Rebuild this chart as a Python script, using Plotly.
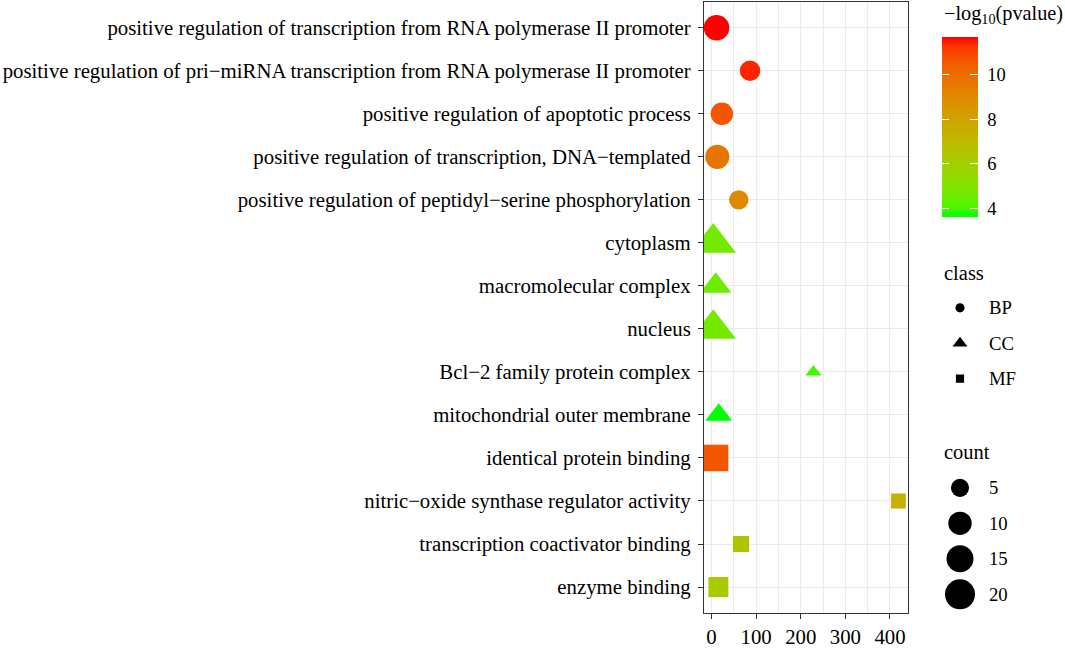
import numpy as np
import plotly.graph_objects as go

# ---------------- data ----------------
terms = [
    "positive regulation of transcription from RNA polymerase II promoter",
    "positive regulation of pri\u2212miRNA transcription from RNA polymerase II promoter",
    "positive regulation of apoptotic process",
    "positive regulation of transcription, DNA\u2212templated",
    "positive regulation of peptidyl\u2212serine phosphorylation",
    "cytoplasm",
    "macromolecular complex",
    "nucleus",
    "Bcl\u22122 family protein complex",
    "mitochondrial outer membrane",
    "identical protein binding",
    "nitric\u2212oxide synthase regulator activity",
    "transcription coactivator binding",
    "enzyme binding",
]
term_class = ["BP", "BP", "BP", "BP", "BP",
              "CC", "CC", "CC", "CC", "CC",
              "MF", "MF", "MF", "MF"]
enrichment = [11.2, 86.3, 23.1, 12.8, 61.0, 3.8, 9.4, 3.8, 228.3, 16.1, 7.8, 419.0, 66.0, 15.3]
neg_log10_p = [11.69, 11.4, 10.6, 9.7, 9.0, 4.7, 4.6, 4.7, 4.0, 3.63, 10.6, 7.35, 6.5, 6.2]
counts = [13, 7, 9, 11, 6, 17, 6, 17, 2, 4, 20, 4, 5, 9]

class_levels = ["BP", "CC", "MF"]
count_breaks = [5, 10, 15, 20]
x_ticks = [0, 100, 200, 300, 400]
color_ticks = [4, 6, 8, 10]

# ---------------- style helpers ----------------
FONT = "Liberation Serif"
W, H = 1065, 648
symbols = {"BP": "circle", "CC": "triangle-up", "MF": "square"}
shape_factor = {"BP": 1.0, "CC": 1.4, "MF": 0.886}

cmin_n, cmax_n = min(counts), max(counts)


def diam(c):
    return 10 + 20 * np.sqrt((c - cmin_n) / (cmax_n - cmin_n))


# ggplot-like Lab interpolation green -> red
def srgb_to_lab(rgb):
    rgb = np.array(rgb) / 255.0
    lin = np.where(rgb <= 0.04045, rgb / 12.92, ((rgb + 0.055) / 1.055) ** 2.4)
    M = np.array([[0.4124, 0.3576, 0.1805], [0.2126, 0.7152, 0.0722], [0.0193, 0.1192, 0.9505]])
    xyz = M @ lin / np.array([0.95047, 1.0, 1.08883])
    f = np.where(xyz > 0.008856, np.cbrt(xyz), 7.787 * xyz + 16 / 116)
    return np.array([116 * f[1] - 16, 500 * (f[0] - f[1]), 200 * (f[1] - f[2])])


def lab_to_srgb(lab):
    L, a, b = lab
    fy = (L + 16) / 116
    fx = fy + a / 500
    fz = fy - b / 200
    f = np.array([fx, fy, fz])
    xyz = np.where(f ** 3 > 0.008856, f ** 3, (f - 16 / 116) / 7.787) * np.array([0.95047, 1.0, 1.08883])
    Minv = np.array([[3.2406, -1.5372, -0.4986], [-0.9689, 1.8758, 0.0415], [0.0557, -0.2040, 1.0570]])
    lin = np.clip(Minv @ xyz, 0, 1)
    s = np.where(lin <= 0.0031308, 12.92 * lin, 1.055 * lin ** (1 / 2.4) - 0.055)
    s = np.clip(np.round(s * 255), 0, 255).astype(int)
    return "rgb(%d,%d,%d)" % tuple(s)


lab_lo = srgb_to_lab([0, 255, 0])
lab_hi = srgb_to_lab([255, 0, 0])
colorscale = [[t, lab_to_srgb(lab_lo + (lab_hi - lab_lo) * t)] for t in np.linspace(0, 1, 21)]
clear_scale = [[0, "rgba(0,0,0,0)"], [1, "rgba(0,0,0,0)"]]

# x-range with 5% expansion (ggplot default)
xmin, xmax = min(enrichment), max(enrichment)
pad = 0.05 * (xmax - xmin)
xrange = [xmin - pad, xmax + pad]
ny = len(terms)
vmin, vmax = min(neg_log10_p), max(neg_log10_p)


def px(x):
    return x / W


def py(y):
    return 1 - y / H


fig = go.Figure()

# ---------------- main points ----------------
for cl in class_levels:
    idx = [i for i, c in enumerate(term_class) if c == cl]
    fig.add_trace(go.Scatter(
        x=[enrichment[i] for i in idx],
        y=[terms[i] for i in idx],
        mode="markers",
        marker=dict(
            symbol=symbols[cl],
            size=[diam(counts[i]) * shape_factor[cl] for i in idx],
            color=[neg_log10_p[i] for i in idx],
            coloraxis="coloraxis",
            opacity=1,
            line=dict(width=0),
        ),
        showlegend=False,
        xaxis="x", yaxis="y",
    ))

# helper traces that only carry the extra colour-bar tick overlays
for ca in ["coloraxis2", "coloraxis3"]:
    fig.add_trace(go.Scatter(
        x=[None], y=[None], mode="markers",
        marker=dict(color=[vmin], coloraxis=ca),
        showlegend=False, hoverinfo="skip", xaxis="x", yaxis="y",
    ))

# ---------------- class legend keys ----------------
fig.add_trace(go.Scatter(
    x=[0] * len(class_levels),
    y=class_levels,
    mode="markers",
    marker=dict(symbol=[symbols[c] for c in class_levels],
                size=[9.2 * shape_factor[c] for c in class_levels],
                color="#000000", opacity=1, line=dict(width=0)),
    showlegend=False, xaxis="x4", yaxis="y4", hoverinfo="skip",
))

# ---------------- count legend keys ----------------
fig.add_trace(go.Scatter(
    x=[0] * len(count_breaks),
    y=[str(c) for c in count_breaks],
    mode="markers",
    marker=dict(symbol="circle", size=[diam(c) for c in count_breaks],
                color="#000000", opacity=1, line=dict(width=0)),
    showlegend=False, xaxis="x3", yaxis="y3", hoverinfo="skip",
))

grid = "#EBEBEB"
border = "#333333"
bar_top, bar_len, bar_left, bar_w = 37.3, 180, 942.3, 36

cb_common = dict(
    xanchor="left", xpad=0, y=py(bar_top), yanchor="top", ypad=0,
    len=bar_len, lenmode="pixels", thicknessmode="pixels",
    outlinewidth=0, tickvals=color_ticks,
)

fig.update_layout(
    width=W, height=H, autosize=False,
    margin=dict(l=0, r=0, t=0, b=0),
    paper_bgcolor="white", plot_bgcolor="white",
    font=dict(family=FONT, size=20.8, color="black"),
    xaxis=dict(
        domain=[px(704), px(907.7)],
        range=xrange,
        tickvals=x_ticks,
        ticks="outside", ticklen=5, tickwidth=1.2, tickcolor=border,
        showgrid=True, gridcolor=grid, gridwidth=1.2,
        minor=dict(dtick=50, tick0=0, showgrid=True, gridcolor=grid, gridwidth=0.8),
        showline=True, linecolor=border, linewidth=1.2, mirror=True,
        zeroline=False,
        tickfont=dict(size=20.8, color="black", family=FONT),
        anchor="y",
    ),
    yaxis=dict(
        domain=[py(620.5), py(2)],
        type="category",
        categoryarray=terms,
        range=[ny - 0.4, -0.6],
        ticks="outside", ticklen=5, tickwidth=1.2, tickcolor=border,
        showgrid=True, gridcolor=grid, gridwidth=1.2,
        showline=True, linecolor=border, linewidth=1.2, mirror=True,
        zeroline=False,
        tickfont=dict(size=20.8, color="black", family=FONT),
        ticklabelstandoff=3,
        anchor="x",
    ),
    # class legend axes
    xaxis4=dict(domain=[px(945), px(975)], range=[-1, 1], visible=False, anchor="y4"),
    yaxis4=dict(domain=[py(401.2), py(293.8)], type="category",
                categoryarray=class_levels,
                range=[len(class_levels) - 0.5, -0.5],
                side="right", anchor="x4", showgrid=False, showline=False,
                zeroline=False, ticks="", ticklabelstandoff=13,
                tickfont=dict(size=18.7, color="black", family=FONT)),
    # count legend axes
    xaxis3=dict(domain=[px(945), px(975)], range=[-1, 1], visible=False, anchor="y3"),
    yaxis3=dict(domain=[py(619.7), py(476)], type="category",
                categoryarray=[str(c) for c in count_breaks],
                range=[len(count_breaks) - 0.5, -0.5],
                side="right", anchor="x3", showgrid=False, showline=False,
                zeroline=False, ticks="", ticklabelstandoff=13,
                tickfont=dict(size=18.7, color="black", family=FONT)),
    coloraxis=dict(
        colorscale=colorscale, cmin=vmin, cmax=vmax,
        colorbar=dict(
            **cb_common, x=px(bar_left), thickness=bar_w,
            ticks="outside", ticklen=6, tickcolor="rgba(0,0,0,0)",
            tickfont=dict(size=18.5, color="black", family=FONT),
        ),
    ),
    coloraxis2=dict(
        colorscale=clear_scale, cmin=vmin, cmax=vmax,
        colorbar=dict(
            **cb_common, x=px(bar_left), thickness=bar_w,
            ticks="inside", ticklen=7.5, tickwidth=1.1, tickcolor="white",
            showticklabels=False,
        ),
    ),
    coloraxis3=dict(
        colorscale=clear_scale, cmin=vmin, cmax=vmax,
        colorbar=dict(
            **cb_common, x=px(bar_left - 6), thickness=6,
            ticks="outside", ticklen=7.5, tickwidth=1.1, tickcolor="white",
            showticklabels=False,
        ),
    ),
    annotations=[
        dict(text="\u2212log<sub>10</sub>(pvalue)", x=px(941.5), y=py(15), xref="paper", yref="paper",
             xanchor="left", yanchor="middle", showarrow=False,
             font=dict(size=20.3, color="black", family=FONT)),
        dict(text="class", x=px(941.5), y=py(276), xref="paper", yref="paper",
             xanchor="left", yanchor="middle", showarrow=False,
             font=dict(size=20.5, color="black", family=FONT)),
        dict(text="count", x=px(941.5), y=py(457.5), xref="paper", yref="paper",
             xanchor="left", yanchor="middle", showarrow=False,
             font=dict(size=20.5, color="black", family=FONT)),
    ],
)

page_css = (
    "var d=document.documentElement,b=document.body;"
    "d.style.margin='0';d.style.padding='0';d.style.overflow='hidden';d.style.height='%dpx';"
    "b.style.margin='0';b.style.padding='0';b.style.overflow='hidden';b.style.height='%dpx';"
    % (H, H)
)

fig.write_html(
    "out.html",
    config={"displayModeBar": False, "responsive": False},
    post_script=page_css,
)
